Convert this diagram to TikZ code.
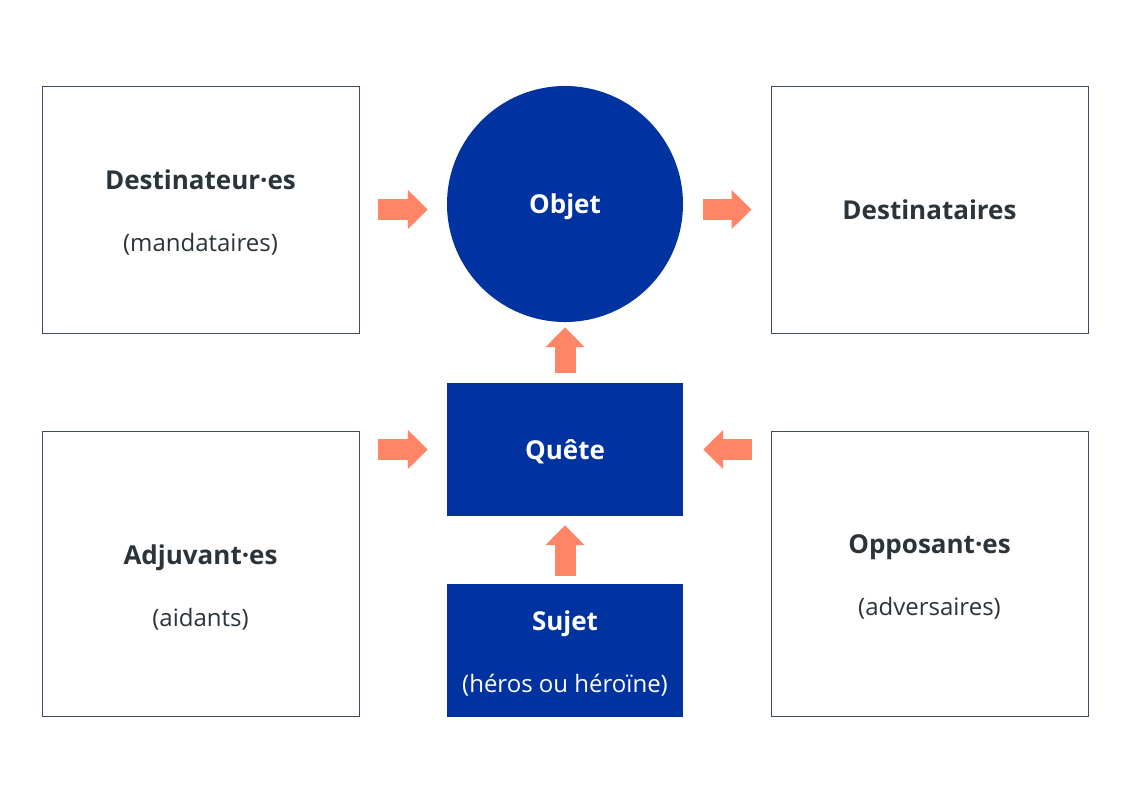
\documentclass[tikz,border=0pt]{standalone}
\usepackage{fontspec}
\setmainfont{Open Sans}
\definecolor{actantblue}{RGB}{0, 51, 160}
\definecolor{arrowsalmon}{RGB}{255, 133, 102}
\definecolor{frameline}{RGB}{62, 74, 100}
\definecolor{inkdark}{RGB}{42, 52, 58}
\usetikzlibrary{positioning,shapes,arrows.meta,calc}

\tikzset{
    actbox/.style={draw=frameline, line width=0.9pt, fill=white,
        minimum width=317pt, inner sep=0pt},
    bluebox/.style={fill=actantblue, minimum width=236pt,
        minimum height=133pt, inner sep=0pt},
    darktext/.style={text=inkdark, align=center, yshift=-3pt,
        font=\fontsize{24}{62}\selectfont},
    lighttext/.style={darktext, text=white},
    bigarrow/.style={arrowsalmon, line width=21pt,
        -{Triangle[width=38pt,length=20pt]}},
}
\newcommand{\headword}[1]{{\fontsize{26}{62}\selectfont\bfseries #1}}

\begin{document}
\begin{tikzpicture}[x=1pt,y=-1pt]
    \useasboundingbox[fill=white] (0,0) rectangle (1132,793);
    % upper row
    \node[actbox, minimum height=247pt,
        label={[darktext]center:{\headword{Destinateur·es}\\(mandataires)}}]
        (destinateur) at (200.5,209.5) {};
    \node[circle, fill=actantblue, minimum size=236pt, inner sep=0pt,
        label={[lighttext]center:\headword{Objet}}]
        (objet) at (565,204) {};
    \node[actbox, minimum height=247pt,
        label={[darktext, yshift=3pt]center:\headword{Destinataires}}]
        (destinataire) at (929.5,209.5) {};
    % middle and lower row
    \node[bluebox, label={[lighttext, yshift=1pt]center:\headword{Quête}}]
        (quete) at (565,449.5) {};
    \node[bluebox, label={[lighttext]center:{\headword{Sujet}\\(héros ou héroïne)}}]
        (sujet) at (565,650.5) {};
    \node[actbox, minimum height=285pt,
        label={[darktext, yshift=-11pt]center:{\headword{Adjuvant·es}\\(aidants)}}]
        (adjuvant) at (200.5,573.5) {};
    \node[actbox, minimum height=285pt,
        label={[darktext]center:{\headword{Opposant·es}\\(adversaires)}}]
        (opposant) at (929.5,573.5) {};
    % arrows
    \draw[bigarrow, shorten <=19pt, shorten >=19pt]
        (destinateur.east) -- (destinateur.east -| objet.west);
    \draw[bigarrow, shorten <=20pt, shorten >=19pt]
        (objet.east |- destinataire.west) -- (destinataire.west);
    \draw[bigarrow, shorten <=10pt, shorten >=5pt] (quete.north) -- (objet.south);
    \draw[bigarrow, shorten <=19pt, shorten >=19pt]
        (quete.west -| adjuvant.east) -- (quete.west);
    \draw[bigarrow, shorten <=19pt, shorten >=20pt]
        (quete.east -| opposant.west) -- (quete.east);
    \draw[bigarrow, shorten <=8pt, shorten >=9pt] (sujet.north) -- (quete.south);
\end{tikzpicture}
\end{document}
